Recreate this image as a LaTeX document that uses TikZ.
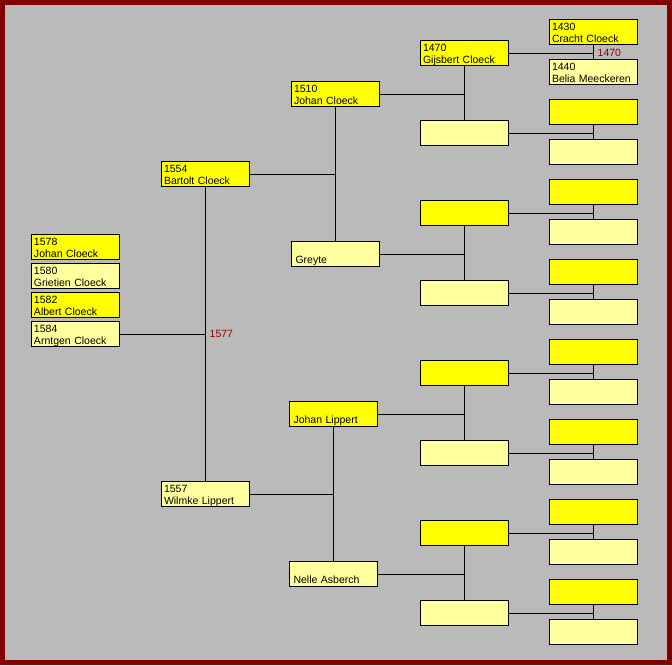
\documentclass[tikz,border=0pt]{standalone}
\usepackage{fontspec}
\setmainfont{Liberation Sans}
\definecolor{framered}{RGB}{128, 0, 0}
\definecolor{bggray}{RGB}{186, 186, 186}
\definecolor{manyellow}{RGB}{255, 255, 0}
\definecolor{wifeyellow}{RGB}{255, 255, 158}
\definecolor{yearred}{RGB}{140, 0, 0}
\usetikzlibrary{positioning, calc}

\begin{document}
\begin{tikzpicture}[x=1pt, y=-1pt,
    person/.style={draw=black, line width=1pt, anchor=north west, inner xsep=2.5pt, inner ysep=0pt,
      text width=83pt, minimum height=25pt, text height=11pt, text depth=14pt, align=left,
      font=\fontsize{10.5}{12}\selectfont},
    man/.style={person, fill=manyellow},
    wife/.style={person, fill=wifeyellow},
    nameonly/.style={text height=22pt, text depth=3pt, inner xsep=4pt, text width=80pt},
    link/.style={line width=1pt, black},
    year/.style={anchor=west, inner sep=1pt, text=yearred, font=\fontsize{10.5}{12}\selectfont}]
  % Frame
  \useasboundingbox (0, 0) rectangle (672, 665);
  \fill[framered] (0, 0) rectangle (672, 665);
  \fill[bggray] (5, 5) rectangle (667, 660);

  % Children
  \node[man] (johan1578) at (31, 234) {1578\\Johan Cloeck};
  \node[wife] (grietien) at (31, 263) {1580\\Grietien Cloeck};
  \node[man] (albert) at (31, 292) {1582\\Albert Cloeck};
  \node[wife] (arntgen) at (31, 321) {1584\\Arntgen Cloeck};

  % Parents
  \node[man] (bartolt) at (161, 161) {1554\\Bartolt Cloeck};
  \node[wife] (wilmke) at (161, 481) {1557\\Wilmke Lippert};

  % Grandparents
  \node[man] (johan1510) at (291, 81) {1510\\Johan Cloeck};
  \node[wife, nameonly] (greyte) at (291, 241) {Greyte};
  \node[man, nameonly] (lippert) at (289, 401) {Johan Lippert};
  \node[wife, nameonly] (nelle) at (289, 561) {Nelle Asberch};

  % Great-grandparents
  \node[man] (gijsbert) at (420, 40) {1470\\Gijsbert Cloeck};
  \node[wife] (gijsbertw) at (420, 120) {};
  \node[man] (greytef) at (420, 200) {};
  \node[wife] (greytem) at (420, 280) {};
  \node[man] (lippertf) at (420, 360) {};
  \node[wife] (lippertm) at (420, 440) {};
  \node[man] (nellef) at (420, 520) {};
  \node[wife] (nellem) at (420, 600) {};

  % Great-great-grandparents
  \node[man] (cracht) at (549, 19) {1430\\Cracht Cloeck};
  \node[wife] (belia) at (549, 59) {1440\\Belia Meeckeren};
  \node[man] (ga2) at (549, 99) {};
  \node[wife] (gb2) at (549, 139) {};
  \node[man] (ga3) at (549, 179) {};
  \node[wife] (gb3) at (549, 219) {};
  \node[man] (ga4) at (549, 259) {};
  \node[wife] (gb4) at (549, 299) {};
  \node[man] (ga5) at (549, 339) {};
  \node[wife] (gb5) at (549, 379) {};
  \node[man] (ga6) at (549, 419) {};
  \node[wife] (gb6) at (549, 459) {};
  \node[man] (ga7) at (549, 499) {};
  \node[wife] (gb7) at (549, 539) {};
  \node[man] (ga8) at (549, 579) {};
  \node[wife] (gb8) at (549, 619) {};

  % Marriages and descent
  \draw[link] (bartolt) -- (wilmke);
  \draw[link] (arntgen) -- (arntgen -| bartolt);
  \node[year] (wed1577) at ($(arntgen -| bartolt)+(3, 0)$) {1577};

  \draw[link] (johan1510) -- (greyte);
  \draw[link] (bartolt) -- (bartolt -| johan1510);
  \draw[link] (lippert) -- (nelle);
  \draw[link] (wilmke) -- (wilmke -| lippert);

  \draw[link] (gijsbert) -- (gijsbertw);
  \draw[link] (johan1510) -- (johan1510 -| gijsbert);
  \draw[link] (greytef) -- (greytem);
  \draw[link] (greyte) -- (greyte -| greytef);
  \draw[link] (lippertf) -- (lippertm);
  \draw[link] (lippert) -- (lippert -| lippertf);
  \draw[link] (nellef) -- (nellem);
  \draw[link] (nelle) -- (nelle -| nellef);

  \draw[link] (cracht) -- (belia);
  \draw[link] (gijsbert) -- (gijsbert -| cracht);
  \node[year] (wed1470) at ($(gijsbert -| cracht)+(3, 0)$) {1470};
  \draw[link] (ga2) -- (gb2);
  \draw[link] (gijsbertw) -- (gijsbertw -| ga2);
  \draw[link] (ga3) -- (gb3);
  \draw[link] (greytef) -- (greytef -| ga3);
  \draw[link] (ga4) -- (gb4);
  \draw[link] (greytem) -- (greytem -| ga4);
  \draw[link] (ga5) -- (gb5);
  \draw[link] (lippertf) -- (lippertf -| ga5);
  \draw[link] (ga6) -- (gb6);
  \draw[link] (lippertm) -- (lippertm -| ga6);
  \draw[link] (ga7) -- (gb7);
  \draw[link] (nellef) -- (nellef -| ga7);
  \draw[link] (ga8) -- (gb8);
  \draw[link] (nellem) -- (nellem -| ga8);
\end{tikzpicture}
\end{document}
